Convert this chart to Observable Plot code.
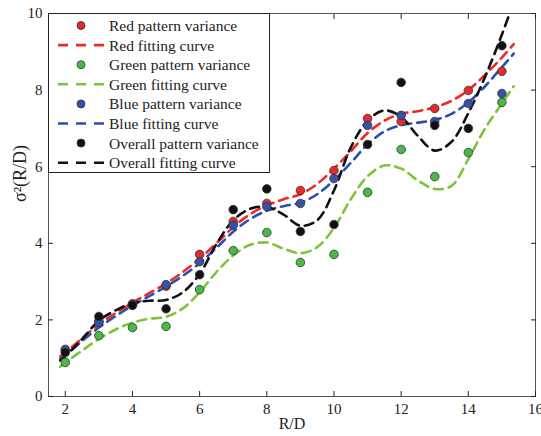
<!DOCTYPE html>
<html><head><meta charset="utf-8">
<script src="https://cdn.jsdelivr.net/npm/d3@7"></script>
<script src="https://cdn.jsdelivr.net/npm/@observablehq/plot@0.6"></script>
<style>
body{margin:0;background:#fff;}
#wrap{position:relative;width:541px;height:436px;font-family:"Liberation Serif","Times New Roman",serif;}
#legend{position:absolute;left:48px;top:13px;width:222px;height:160px;background:#fff;border:1px solid #222;box-sizing:border-box;}
</style></head>
<body><div id="wrap"><div id="chart"></div><div id="legend"></div></div>
<script>
const xs = [2,3,4,5,6,7,8,9,10,11,12,13,14,15];
const redPts   = [1.20,1.97,2.42,2.88,3.71,4.57,5.04,5.38,5.90,7.26,7.18,7.52,7.99,8.49];
const greenPts = [0.89,1.59,1.80,1.83,2.79,3.81,4.28,3.50,3.71,5.33,6.45,5.74,6.37,7.68];
const bluePts  = [1.23,1.93,2.40,2.92,3.52,4.47,4.96,5.04,5.69,7.08,7.34,7.18,7.65,7.91];
const blackPts = [1.15,2.09,2.38,2.29,3.18,4.88,5.42,4.31,4.49,6.58,8.20,7.08,7.00,9.16];

const curveX     = [1.85,2,2.5,3,3.5,4,4.5,5,5.5,6,6.5,7,7.5,8,8.5,9,9.5,10,10.5,11,11.5,12,12.5,13,13.5,14,14.5,15,15.35];
const redCurve   = [1.05,1.15,1.52,1.88,2.18,2.45,2.70,2.95,3.25,3.60,4.00,4.42,4.76,4.99,5.15,5.28,5.55,5.95,6.40,6.88,7.20,7.38,7.45,7.55,7.72,8.00,8.40,8.85,9.20];
const blueCurve  = [0.98,1.07,1.45,1.80,2.10,2.37,2.62,2.87,3.15,3.48,3.88,4.30,4.63,4.85,4.97,5.06,5.28,5.65,6.10,6.58,6.92,7.08,7.15,7.22,7.38,7.68,8.10,8.60,8.95];
const greenCurve = [0.78,0.88,1.20,1.50,1.75,1.93,2.03,2.08,2.30,2.72,3.25,3.68,3.96,4.02,3.86,3.74,3.90,4.40,5.15,5.75,6.03,5.95,5.64,5.42,5.50,6.20,7.00,7.65,8.10];
const blackCurve = [0.94,1.05,1.50,1.98,2.25,2.44,2.50,2.52,2.72,3.20,3.98,4.60,4.90,4.95,4.75,4.46,4.60,5.38,6.50,7.20,7.47,7.30,6.80,6.42,6.65,7.40,8.35,9.45,10.30];

const xTicks = [2,4,6,8,10,12,14,16];
const yTicks = [0,2,4,6,8,10];
const xLabel = "R/D";
const yLabel = "σ²(R/D)";

const seriesNames = ["Red","Green","Blue","Overall"];
const ptColors = ["#e42a2a","#4cb848","#3750a8","#111111"];
const lineColors = ["#f02828","#7cc43a","#2b4eb0","#111111"];

const ptSets = [redPts, greenPts, bluePts, blackPts];
const curveSets = [redCurve, greenCurve, blueCurve, blackCurve];

const pts = [], curves = [];
seriesNames.forEach((s,i)=>{
  xs.forEach((x,j)=>pts.push({s, x, y: ptSets[i][j]}));
  curveX.forEach((x,j)=>curves.push({s, x, y: curveSets[i][j]}));
});
const colorOf = s => lineColors[seriesNames.indexOf(s)];
const ptColorOf = s => ptColors[seriesNames.indexOf(s)];

const font = '"Liberation Serif","Times New Roman",serif';
const chart = Plot.plot({
  width: 541, height: 436,
  marginLeft: 48, marginRight: 6, marginTop: 13, marginBottom: 40,
  style: {fontFamily: font, fontSize: "15px", color: "#222", background: "#fff"},
  x: {domain: [1.5, 16]},
  y: {domain: [0, 10]},
  marks: [
    Plot.frame({stroke: "#555", strokeWidth: 1}),
    Plot.axisX({ticks: xTicks, tickSize: -5, tickPadding: 12, tickFormat: d=>d, fontSize: 15, label: null}),
    Plot.axisX({anchor: "top", ticks: xTicks, tickSize: -5, tickFormat: ()=>"", label: null}),
    Plot.axisY({ticks: yTicks, tickSize: -5, tickPadding: 11, tickFormat: d=>d, fontSize: 15, label: null}),
    Plot.axisY({anchor: "right", ticks: yTicks, tickSize: -5, tickFormat: ()=>"", label: null}),
    Plot.text([xLabel], {frameAnchor: "bottom", dy: 32, fontSize: 16, fill: "#222"}),
    Plot.text([yLabel], {frameAnchor: "left", rotate: -90, dx: -28, dy: -3, fontSize: 18, fill: "#222"}),
    ...seriesNames.map(s => Plot.line(curves.filter(d=>d.s===s), {x:"x", y:"y", stroke: colorOf(s), strokeWidth: 2.6, strokeDasharray: "9,6", curve: "catmull-rom", clip: true})),
    ...seriesNames.map(s => Plot.dot(pts.filter(d=>d.s===s), {x:"x", y:"y", r: 4.3, fill: ptColorOf(s), stroke: "#333", strokeWidth: 0.8, clip: true}))
  ]
});
document.getElementById("chart").append(chart);

// legend
const legendLabels = [];
seriesNames.forEach((s,i)=>{
  legendLabels.push({t: s+" pattern variance", kind:"dot", c: ptColors[i]});
  legendLabels.push({t: s+" fitting curve", kind:"line", c: lineColors[i]});
});
const lg = d3.select("#legend").append("svg").attr("width",220).attr("height",158);
legendLabels.forEach((d,i)=>{
  const cy = 11.5 + i*19.6;
  if (d.kind==="dot") lg.append("circle").attr("cx",32).attr("cy",cy).attr("r",4).attr("fill",d.c).attr("stroke","#333").attr("stroke-width",0.8);
  else lg.append("line").attr("x1",9).attr("x2",55).attr("y1",cy).attr("y2",cy).attr("stroke",d.c).attr("stroke-width",2.6).attr("stroke-dasharray","10,8");
  lg.append("text").attr("x",60).attr("y",cy).attr("dy","0.35em").attr("font-family",font).attr("font-size","15.5px").attr("fill","#222").text(d.t);
});
</script></body></html>
